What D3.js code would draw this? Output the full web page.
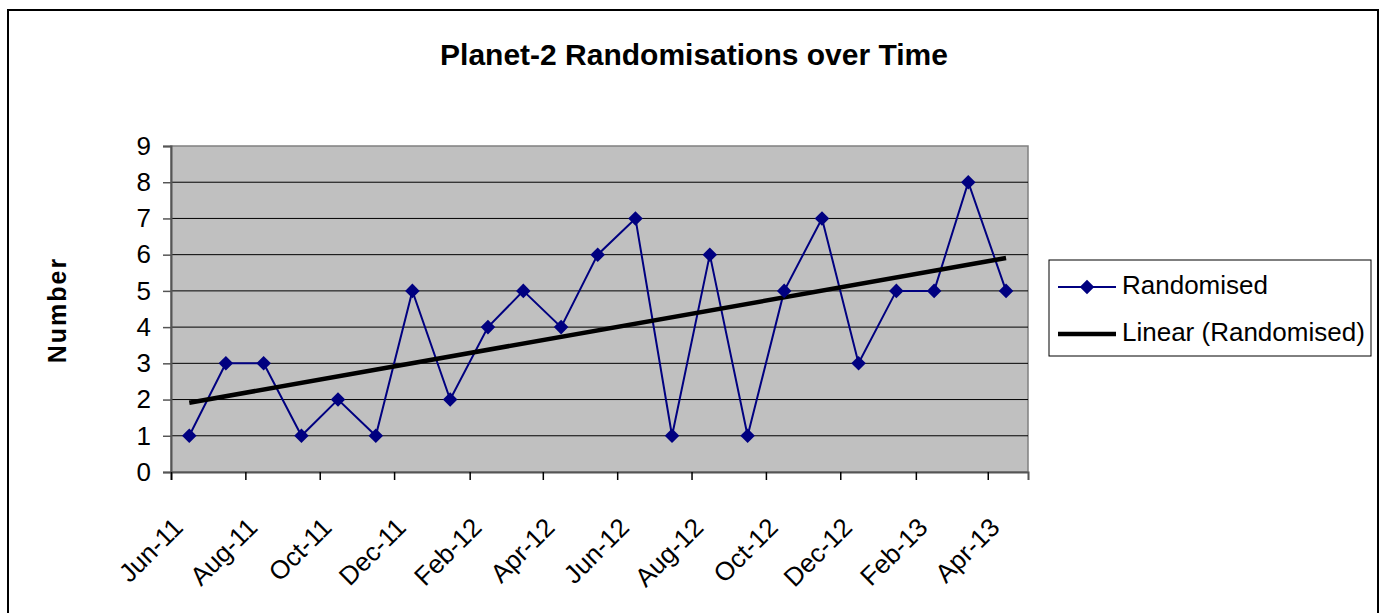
<!DOCTYPE html>
<html>
<head>
<meta charset="utf-8">
<script src="https://cdn.jsdelivr.net/npm/d3@7"></script>
<style>
  body { margin: 0; background: #fff; }
  svg { display: block; font-family: "Liberation Sans", Arial, sans-serif; }
</style>
</head>
<body>
<svg id="chart" width="1386" height="613"></svg>
<script>
// monthly readings, one per month (mid-month)
var months = ["2011-06", "2011-07", "2011-08", "2011-09", "2011-10", "2011-11", "2011-12",
  "2012-01", "2012-02", "2012-03", "2012-04", "2012-05", "2012-06", "2012-07", "2012-08",
  "2012-09", "2012-10", "2012-11", "2012-12", "2013-01", "2013-02", "2013-03", "2013-04"];
var randomised = [1, 3, 3, 1, 2, 1, 5, 2, 4, 5, 4, 6, 7, 1, 6, 1, 5, 7, 3, 5, 5, 8, 5];
var yTicks = [0, 1, 2, 3, 4, 5, 6, 7, 8, 9];
var legendLabels = ["Randomised", "Linear (Randomised)"];

var parseMonth = d3.timeParse("%Y-%m");
var data = months.map(function(m, i) {
  return { date: d3.timeDay.offset(parseMonth(m), 15), value: randomised[i] };
});

var svg = d3.select("#chart");
var pLeft = 171, pTop = 146, pRight = 1028, pBottom = 472;

var x = d3.scaleTime()
  .domain([new Date(2011, 5, 1), new Date(2013, 4, 4)])
  .range([pLeft, pRight]);
var y = d3.scaleLinear().domain([0, 9]).range([pBottom, pTop]);

// outer frame
svg.append("rect")
  .attr("x", 8).attr("y", 10).attr("width", 1370).attr("height", 640)
  .attr("fill", "#fff").attr("stroke", "#000").attr("stroke-width", 2);

svg.append("text")
  .attr("x", 694).attr("y", 65)
  .attr("text-anchor", "middle")
  .style("font-size", "30px").style("font-weight", "bold")
  .text("Planet-2 Randomisations over Time");

svg.append("text")
  .attr("transform", "translate(66,310) rotate(-90)")
  .attr("text-anchor", "middle")
  .style("font-size", "25px").style("font-weight", "bold")
  .style("letter-spacing", "2px")
  .text("Number");

// plot area
svg.append("rect")
  .attr("x", pLeft).attr("y", pTop)
  .attr("width", pRight - pLeft).attr("height", pBottom - pTop)
  .attr("fill", "#c0c0c0").attr("stroke", "#808080").attr("stroke-width", 1.5);

svg.append("g")
  .selectAll("line")
  .data(yTicks.slice(1, -1))
  .enter()
  .append("line")
  .attr("x1", pLeft).attr("x2", pRight)
  .attr("y1", function(d) { return y(d); })
  .attr("y2", function(d) { return y(d); })
  .attr("stroke", "#000").attr("stroke-width", 1);

// y axis
var yAxis = svg.append("g")
  .attr("transform", "translate(" + pLeft + ",0)")
  .call(d3.axisLeft(y).tickValues(yTicks).tickSize(8).tickPadding(12));
yAxis.select(".domain").attr("stroke", "#555").attr("stroke-width", 2);
yAxis.selectAll(".tick line").attr("stroke", "#555").attr("stroke-width", 1.5);
yAxis.selectAll("text").style("font-size", "26px").attr("fill", "#000");

// x axis
var xTicks = d3.timeMonth.range(new Date(2011, 5, 1), new Date(2013, 4, 2), 2);
var xAxis = svg.append("g")
  .attr("transform", "translate(0," + pBottom + ")")
  .call(d3.axisBottom(x).tickValues(xTicks).tickSize(8)
    .tickFormat(d3.timeFormat("%b-%y")));
xAxis.select(".domain").attr("stroke", "#555").attr("stroke-width", 2);
xAxis.selectAll(".tick line").attr("stroke", "#000").attr("stroke-width", 1.5);
xAxis.selectAll("text")
  .style("font-size", "26px").attr("fill", "#000")
  .attr("text-anchor", "end")
  .attr("dy", 0).attr("y", 0)
  .attr("transform", "translate(13,57) rotate(-45)");

// series line
var line = d3.line()
  .x(function(d) { return x(d.date); })
  .y(function(d) { return y(d.value); });

svg.append("path")
  .datum(data)
  .attr("d", line)
  .attr("fill", "none").attr("stroke", "#000080").attr("stroke-width", 2);

// least-squares trend
var xs = data.map(function(d) { return +d.date; });
var mx = d3.mean(xs), my = d3.mean(randomised);
var slope = d3.sum(data, function(d) { return (+d.date - mx) * (d.value - my); }) /
  d3.sum(xs, function(v) { return (v - mx) * (v - mx); });
var trend = [data[0], data[data.length - 1]].map(function(d) {
  return { date: d.date, value: my + slope * (+d.date - mx) };
});
svg.append("path")
  .datum(trend)
  .attr("d", line)
  .attr("fill", "none").attr("stroke", "#000").attr("stroke-width", 4.5);

var diamond = d3.symbol().type(d3.symbolDiamond2).size(135);
svg.append("g")
  .selectAll("path")
  .data(data)
  .enter()
  .append("path")
  .attr("d", diamond)
  .attr("transform", function(d) { return "translate(" + x(d.date) + "," + y(d.value) + ")"; })
  .attr("fill", "#000080");

// legend
var lg = svg.append("g");
lg.append("rect")
  .attr("x", 1049).attr("y", 260).attr("width", 322).attr("height", 96)
  .attr("fill", "#fff").attr("stroke", "#000").attr("stroke-width", 1);
lg.append("line")
  .attr("x1", 1058).attr("x2", 1116).attr("y1", 287).attr("y2", 287)
  .attr("stroke", "#000080").attr("stroke-width", 2);
lg.append("path")
  .attr("d", diamond)
  .attr("transform", "translate(1087,287)")
  .attr("fill", "#000080");
lg.append("line")
  .attr("x1", 1058).attr("x2", 1116).attr("y1", 334).attr("y2", 334)
  .attr("stroke", "#000").attr("stroke-width", 4.5);
lg.selectAll("text")
  .data(legendLabels)
  .enter()
  .append("text")
  .attr("x", 1122)
  .attr("y", function(d, i) { return 294 + i * 47; })
  .style("font-size", "26px")
  .text(function(d) { return d; });
</script>
</body>
</html>
